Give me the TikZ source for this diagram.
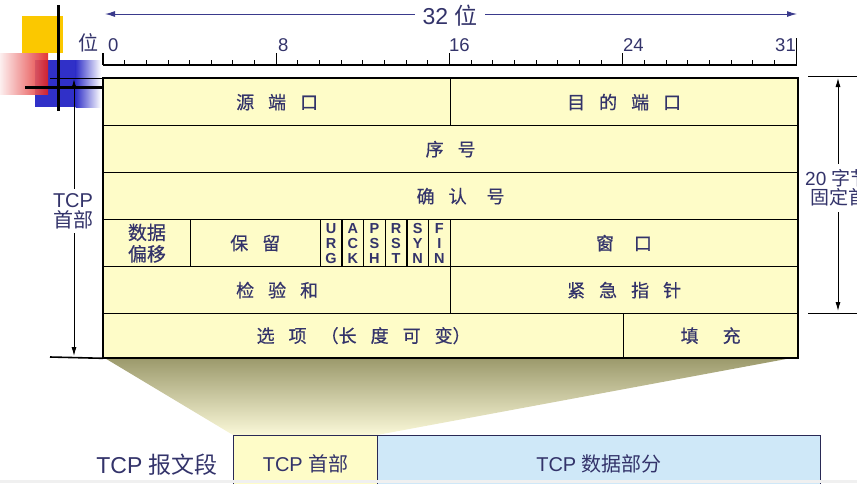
\documentclass[tikz,border=0pt]{standalone}
\usepackage{fontspec}
\setmainfont{Liberation Sans}
\newfontfamily\cjk{Noto Sans CJK SC}
\newfontfamily\cjkb[FakeBold=0.5]{Noto Sans CJK SC}
\usetikzlibrary{arrows.meta,calc}
\definecolor{cellfill}{HTML}{FEFCC8}
\definecolor{navy}{HTML}{33336A}
\definecolor{arrownavy}{HTML}{3A3A8C}
\definecolor{datafill}{HTML}{CFE8F8}
\definecolor{funtop}{HTML}{9A986A}
\definecolor{funbot}{HTML}{FAF8D8}
\definecolor{decyellow}{HTML}{FBC800}
\definecolor{decblue}{HTML}{3030C8}
\definecolor{decred}{HTML}{E02020}
\newcommand\gp{\hspace{14pt}}
\newcommand\gpw{\hspace{20pt}}
\begin{document}
\begin{tikzpicture}[x=1pt,y=-1pt,
  cell/.style={draw=black, line width=1.3pt, fill=cellfill, text=navy,
    font=\cjkb\fontsize{18}{22}\selectfont, inner sep=0pt, anchor=north west,
    align=center},
  flag/.style={cell, font=\bfseries\fontsize{14.5}{15}\selectfont,
    minimum width=21.66pt, minimum height=47pt},
  rnum/.style={text=navy, font=\fontsize{18.5}{20}\selectfont, inner sep=1pt},
  dim/.style={line width=0.9pt, {Latex[length=9pt,width=5pt]}-{Latex[length=9pt,width=5pt]}},
  dimlabel/.style={fill=white, text=navy, font=\fontsize{20}{22}\selectfont,
    inner xsep=1pt, inner ysep=4pt, align=center},
  ext/.style={line width=0.9pt},
  segbox/.style={draw=navy!80!black, line width=1.2pt, anchor=north west,
    minimum height=56pt, inner sep=0pt, text=navy,
    font=\fontsize{20}{22}\selectfont}
]
\useasboundingbox (0,0) rectangle (857,483);
\clip (0,0) rectangle (857,483);

% ---- decoration (top-left) ----
\fill[decblue] (35,60) rectangle (76,107);
\shade[left color=decblue, right color=white] (75.5,60) rectangle (101,107);
\shade[left color=decred!8, right color=decred, opacity=0.9] (0,53) rectangle (48,94);
\fill[decyellow] (22,16) rectangle (63,53);
\draw[line width=3pt] (58,5) -- (58,111);
\draw[line width=3pt] (25,87) -- (103,87);

% ---- top 32-bit arrow ----
\coordinate (tl) at (105,14);
\coordinate (tr) at (797,14);
\draw[line width=1pt, arrownavy, {Latex[length=10pt,width=6pt]}-{Latex[length=10pt,width=6pt]}] (tl) -- (tr);
\node[fill=white, text=navy, font=\fontsize{23}{25}\selectfont, inner xsep=8pt, inner ysep=1pt] (w32) at (450,16) {32 {\cjk 位}};

% ---- ruler ----
\draw[line width=1.2pt] (103,65) -- (797,65);
\foreach \i in {1,...,31} {
  \draw[line width=0.9pt] ({103+21.656*\i},65) -- ++(0,-5.5);
}
\foreach \i in {0,8,16,24} {
  \draw[line width=1.1pt] ({103+21.656*\i},65) -- ++(0,-12);
}
\draw[line width=1.1pt] (796.5,65) -- (796.5,38);
\node[rnum, anchor=base west] (n0) at (107,51) {0};
\node[rnum, anchor=base west] (n8) at (277,51) {8};
\node[rnum, anchor=base west] (n16) at (448,51) {16};
\node[rnum, anchor=base west] (n24) at (622,51) {24};
\node[rnum, anchor=base east] (n31) at (797,51) {31};
\node[rnum, anchor=base east, font=\cjk\fontsize{20}{21}\selectfont] (nbit) at (100,50) {位};

% ---- funnel + segment ----
\coordinate (fl) at (103,357);
\coordinate (fr) at (797,357);
\coordinate (bl) at (233,435);
\coordinate (br) at (377,435);
\shade[top color=funtop, bottom color=funbot] (fl) -- (fr) -- (br) -- (bl) -- cycle;
\node[segbox, fill=cellfill, minimum width=144pt] (hdr) at (bl) {TCP {\cjk 首部}};
\node[segbox, fill=datafill, minimum width=443pt] (data) at (br) {TCP {\cjk 数据部分}};
\node[anchor=base east, text=navy, font=\fontsize{23}{25}\selectfont, inner sep=0pt] (seg) at (218,473) {TCP {\cjk 报文段}};

% ---- header cells ----
\node[cell, minimum width=347pt, minimum height=47pt] (src) at (103,78) {源\gp{}端\gp{}口};
\node[cell, minimum width=347pt, minimum height=47pt] (dst) at (450,78) {目\gp{}的\gp{}端\gp{}口};
\node[cell, minimum width=694pt, minimum height=47pt] (seq) at (103,125) {序\gp{}号};
\node[cell, minimum width=694pt, minimum height=47pt] (ack) at (103,172) {\hspace{20pt}确\gp{}认\gpw{}号};
\node[cell, minimum width=86.6pt, minimum height=47pt, font=\cjkb\fontsize{19}{21.5}\selectfont] (off) at (103,219) {数据\\偏移};
\node[cell, minimum width=130pt, minimum height=47pt] (rsv) at (189.6,219) {保\gp{}留};
\node[flag] (urg) at (319.6,219) {U\\R\\G};
\node[flag] (fack) at (341.3,219) {A\\C\\K};
\node[flag] (psh) at (362.9,219) {P\\S\\H};
\node[flag] (rst) at (384.6,219) {R\\S\\T};
\node[flag] (syn) at (406.2,219) {S\\Y\\N};
\node[flag] (fin) at (427.9,219) {F\\I\\N};
\node[cell, minimum width=347.4pt, minimum height=47pt] (win) at (449.6,219) {窗\gpw{}口};
\node[cell, minimum width=347pt, minimum height=47pt] (chk) at (103,266) {检\gp{}验\gp{}和};
\node[cell, minimum width=347pt, minimum height=47pt] (uptr) at (450,266) {紧\gp{}急\gp{}指\gp{}针};
\node[cell, minimum width=520pt, minimum height=44pt] (opt) at (103,313) {选\gp{}项\gp{}（长\gp{}度\gp{}可\gp{}变）};
\node[cell, minimum width=174pt, minimum height=44pt] (pad) at (623,313) {填\hspace{24pt}充};
\draw[line width=2.2pt] (src.north west) rectangle (pad.south east);

% ---- left dimension (TCP header) ----
\coordinate (lt) at (74,79);
\coordinate (lb) at (74,356);
\coordinate (e1a) at (50,78);
\coordinate (e2a) at (50,357);
\draw[ext, line width=0.7pt] (e1a) -- (src.north west);
\draw[line width=1.6pt] (e2a) -- (opt.south west);
\draw[dim] (lt) -- (lb);
\node[dimlabel] (lhl) at (73,211) {TCP\\[-2pt]{\cjk 首部}};

% ---- right dimension (20 bytes) ----
\coordinate (r1a) at (808,76);
\coordinate (r1b) at (857,76);
\coordinate (r2a) at (808,313);
\coordinate (r2b) at (857,313);
\coordinate (rt) at (838,78);
\coordinate (rb) at (838,311);
\draw[ext] (r1a) -- (r1b);
\draw[ext] (r2a) -- (r2b);
\draw[dim] (rt) -- (rb);
\node[dimlabel, align=left, anchor=west, inner ysep=6pt, font=\fontsize{19}{21}\selectfont] (rhl) at (804,188) {20 {\cjk 字节}\\[-2pt]\hspace*{5pt}{\cjk 固定首部}};

% ---- bottom strip ----
\fill[gray!12] (0,480) rectangle (857,483);
\end{tikzpicture}
\end{document}
